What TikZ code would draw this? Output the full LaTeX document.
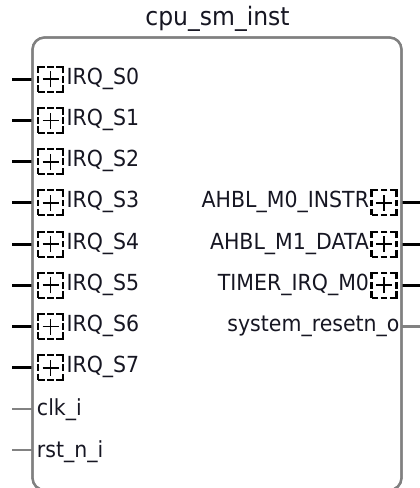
\documentclass[tikz,border=0pt]{standalone}
\usepackage{fontspec}
\setmainfont{DejaVu Sans}
\definecolor{txt}{RGB}{22,22,34}
\definecolor{boxgray}{RGB}{128,128,128}
\definecolor{pingray}{RGB}{130,130,130}
\newcommand{\tallify}[1]{\scalebox{1}[1.08]{#1}}
\tikzset{
  lbl/.style={font=\fontsize{20.5}{24}\selectfont, text=txt, inner sep=0pt, outer sep=0pt},
  ttl/.style={font=\fontsize{23.5}{28}\selectfont, text=txt, inner sep=0pt},
  buspin/.style={line width=3pt, black},
  sigpin/.style={line width=2.2pt, pingray},
  busicon/.style={draw=black, line width=2.1pt, minimum size=25pt, inner sep=0pt, outer sep=0pt,
    dash pattern=on 13.2pt off 2.6pt on 6.6pt off 2.6pt, dash phase=6.6pt,
    path picture={\draw[black, line width=1.9pt, solid]
      ([xshift=-8pt]path picture bounding box.center) -- ([xshift=8pt]path picture bounding box.center)
      ([yshift=-8pt]path picture bounding box.center) -- ([yshift=8pt]path picture bounding box.center);}},
  instbox/.style={draw=boxgray, line width=2.3pt, rounded corners=12pt, inner sep=0pt, outer sep=0pt,
    minimum width=369pt, minimum height=452.5pt}
}
\begin{document}
\begin{tikzpicture}[x=1pt, y=-1pt]
\useasboundingbox (0,0) rectangle (420,488);
\clip (0,0) rectangle (420,488);
\node[ttl, anchor=base] (title) at (217.5,25) {\tallify{cpu\_sm\_inst}};
\node[instbox] (box) at (217,263.75) {};
% left bus ports
\foreach \i/\name in {0/IRQ\_S0,1/IRQ\_S1,2/IRQ\_S2,3/IRQ\_S3,4/IRQ\_S4,5/IRQ\_S5,6/IRQ\_S6,7/IRQ\_S7}{
  \pgfmathsetmacro{\yy}{79.3+41.2*\i}
  \coordinate (pl\i) at (12,\yy);
  \draw[buspin] (pl\i) -- (pl\i -| box.west);
  \node[busicon] (il\i) at (50.5,\yy) {};
  \node[lbl, anchor=base west] (tl\i) at (66.5,\yy+5) {\tallify{\name}};
}
% left signal ports
\foreach \i/\name in {8/clk\_i,9/rst\_n\_i}{
  \pgfmathsetmacro{\yy}{79.3+41.2*\i}
  \coordinate (pl\i) at (12,\yy);
  \draw[sigpin] (pl\i) -- (pl\i -| box.west);
  \node[lbl, anchor=base west] (tl\i) at (37,\yy+7) {\tallify{\name}};
}
% right bus ports
\foreach \i/\name in {3/AHBL\_M0\_INSTR,4/AHBL\_M1\_DATA,5/TIMER\_IRQ\_M0}{
  \pgfmathsetmacro{\yy}{79.3+41.2*\i}
  \coordinate (pr\i) at (420,\yy);
  \draw[buspin] (pr\i -| box.east) -- (pr\i);
  \node[busicon] (ir\i) at (384,\yy) {};
  \node[lbl, anchor=base east] (tr\i) at (369,\yy+5) {\tallify{\name}};
}
% right signal port
\coordinate (pr6) at (420,326.5);
\draw[sigpin] (pr6 -| box.east) -- (pr6);
\node[lbl, anchor=base east] (tr6) at (399.5,331) {\tallify{system\_resetn\_o}};
% redraw border on top
\node[instbox] (boxtop) at (box.center) {};
\end{tikzpicture}
\end{document}
